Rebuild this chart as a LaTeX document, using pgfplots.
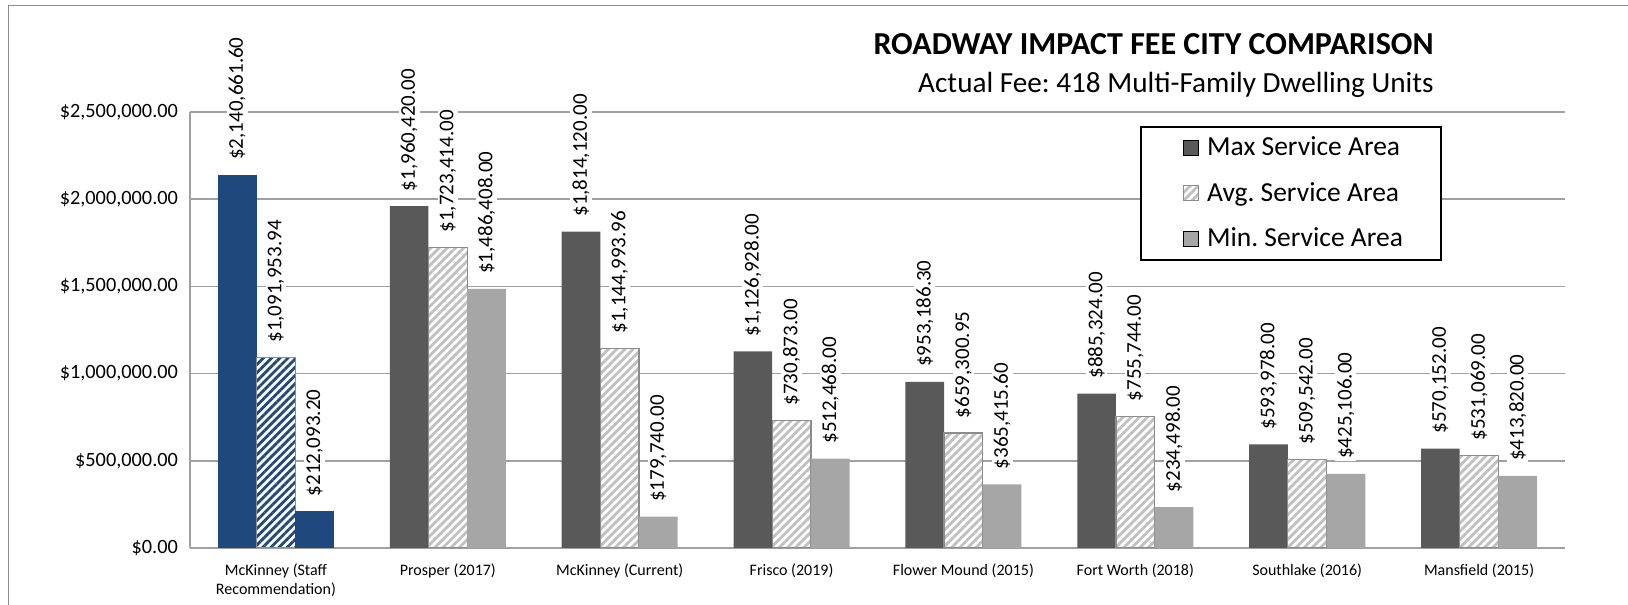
\documentclass[border=0pt]{standalone}
\usepackage{fontspec}
\setmainfont{Carlito}
\usepackage{pgfplots}
\usepackage{pgfplotstable}
\pgfplotsset{compat=1.18}
\usetikzlibrary{patterns.meta}
\frenchspacing

\definecolor{navy}{HTML}{1F497D}
\definecolor{dkgray}{HTML}{595959}
\definecolor{ltgray}{HTML}{A6A6A6}
\definecolor{hatchgray}{HTML}{C0C0C0}
\definecolor{edgegray}{HTML}{8C8C8C}
\definecolor{gridgray}{HTML}{A0A0A0}

\pgfplotstableread{
x y label
1 1960420 1,960,420.00
2 1814120 1,814,120.00
3 1126928 1,126,928.00
4 953186.30 953,186.30
5 885324 885,324.00
6 593978 593,978.00
7 570152 570,152.00
}\maxdata
\pgfplotstableread{
x y label
1 1723414 1,723,414.00
2 1144993.96 1,144,993.96
3 730873 730,873.00
4 659300.95 659,300.95
5 755744 755,744.00
6 509542 509,542.00
7 531069 531,069.00
}\avgdata
\pgfplotstableread{
x y label
1 1486408 1,486,408.00
2 179740 179,740.00
3 512468 512,468.00
4 365415.60 365,415.60
5 234498 234,498.00
6 425106 425,106.00
7 413820 413,820.00
}\mindata
\pgfplotstableread{
x y label
0 2140661.60 2,140,661.60
}\staffmax
\pgfplotstableread{
x y label
0 1091953.94 1,091,953.94
}\staffavg
\pgfplotstableread{
x y label
0 212093.20 212,093.20
}\staffmin

\begin{document}
\begin{tikzpicture}
\useasboundingbox (0,0) rectangle (814pt,302.5pt);
\draw[color=gray!90, line width=0.75pt] (4.2pt,-20pt) rectangle (850pt,299.7pt);

\node[anchor=base east, inner sep=0pt, font=\fontsize{16}{19}\selectfont\bfseries] at (717pt,275pt) {ROADWAY IMPACT FEE CITY COMPARISON};
\node[anchor=base east, inner sep=0pt, font=\fontsize{14.6}{17}\selectfont] at (717pt,256pt) {Actual Fee: 418 Multi-Family Dwelling Units};

\begin{axis}[
  at={(95pt,28.5pt)}, anchor=south west,
  scale only axis, width=687.5pt, height=218pt,
  ybar,
  bar width=19.35pt,
  xmin=-0.5, xmax=7.5,
  ymin=0, ymax=2500000,
  ytick={0,500000,1000000,1500000,2000000,2500000},
  scaled y ticks=false,
  yticklabel={\$\pgfmathprintnumber[assume math mode=true,fixed,fixed zerofill,precision=2,1000 sep={,}]{\tick}},
  yticklabel style={font=\fontsize{10.15}{12}\selectfont, xshift=-2.5pt},
  xtick={0,...,7},
  xticklabels={{McKinney (Staff\\Recommendation)},{Prosper (2017)},{McKinney (Current)},{Frisco (2019)},{Flower Mound (2015)},{Fort Worth (2018)},{Southlake (2016)},{Mansfield (2015)}},
  xticklabel style={font=\fontsize{8}{9.5}\selectfont, align=center, yshift=-4.5pt},
  major tick length=0pt,
  axis lines*=left,
  axis line style={gridgray, line width=0.75pt},
  ymajorgrids,
  grid style={gridgray, line width=0.75pt},
  point meta=explicit symbolic,
  nodes near coords={\$\pgfplotspointmeta},
  every node near coord/.append style={rotate=90, anchor=west, font=\fontsize{10.5}{12}\selectfont, fill=white, inner sep=1pt, outer xsep=6.5pt, text=black},
  legend style={at={(0.6909,0.9679)}, anchor=north west, draw=black, line width=0.9pt, font=\fontsize{13.75}{16}\selectfont, inner xsep=17pt, inner ysep=3pt, row sep=7.8pt, cells={anchor=west}},
  legend image code/.code={\path (0pt,0pt) (13.5pt,0pt); \draw[#1, line width=0.5pt] (4pt,-3.75pt) rectangle (11.5pt,3.75pt);},
]
\addplot[bar shift=-19.35pt, fill=dkgray, draw=none] table[x=x,y=y,meta=label] {\maxdata};
\addlegendentry{Max Service Area}
\addplot[bar shift=0pt, fill=white, draw=edgegray, line width=0.6pt, postaction={pattern={Lines[angle=45,distance=2.9pt,line width=1.4pt]}, pattern color=hatchgray}] table[x=x,y=y,meta=label] {\avgdata};
\addlegendentry{Avg. Service Area}
\addplot[bar shift=19.35pt, fill=ltgray, draw=none] table[x=x,y=y,meta=label] {\mindata};
\addlegendentry{Min. Service Area}
\addplot[forget plot, bar shift=-19.35pt, fill=navy, draw=none] table[x=x,y=y,meta=label] {\staffmax};
\addplot[forget plot, bar shift=0pt, fill=white, draw=edgegray, line width=0.6pt, postaction={pattern={Lines[angle=45,distance=2.9pt,line width=1.4pt]}, pattern color=navy}] table[x=x,y=y,meta=label] {\staffavg};
\addplot[forget plot, bar shift=19.35pt, fill=navy, draw=none] table[x=x,y=y,meta=label] {\staffmin};
\end{axis}
\end{tikzpicture}
\end{document}
